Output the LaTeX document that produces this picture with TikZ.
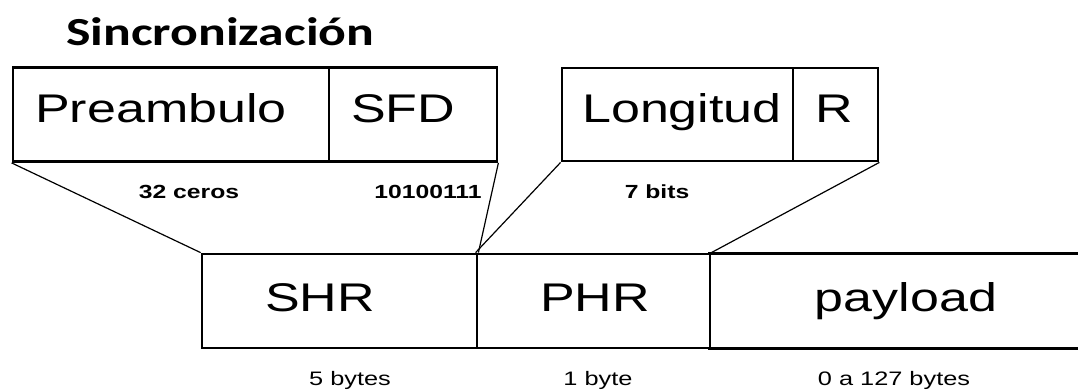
\documentclass[tikz,border=0pt]{standalone}
\usepackage{fontspec}
\setmainfont[FakeStretch=1.3]{Liberation Sans}
\newfontfamily\titlefont[FakeStretch=1.3]{Carlito}
\begin{document}
\begin{tikzpicture}[x=1pt,y=-1pt,
  cell/.style={draw=black,line width=2.8pt,minimum width=#1,minimum height=94pt,inner sep=0pt},
  field/.style={anchor=base,font=\fontsize{40}{40}\selectfont,inner sep=0pt},
  topnote/.style={anchor=base,font=\bfseries\fontsize{19}{19}\selectfont,inner sep=0pt},
  sizenote/.style={anchor=base,font=\fontsize{19.5}{19.5}\selectfont,inner sep=0pt},
  link/.style={line width=1.2pt,black}]
\useasboundingbox (0,0) rectangle (1078,389);

% heading
\node[anchor=base west,inner sep=0pt,font=\titlefont\bfseries\fontsize{39.8}{39.8}\selectfont]
  (title) at (66,45) {Sincronización};

% synchronisation header fields
\node[cell=316pt] (pre) at (171,114.5) {};
\node[cell=168pt] (sfd) at (413,114.5) {};
\node[field] (pret) at (161,122.5) {Preambulo};
\node[field] (sfdt) at (403,122.5) {SFD};
\node[topnote] (preN) at (189,198) {32 ceros};
\node[topnote] (sfdN) at (428,198) {10100111};

% PHY header fields
\node[cell=231pt,minimum height=93pt] (lon) at (677.5,114.5) {};
\node[cell=85pt,minimum height=93pt] (r) at (835.5,114.5) {};
\node[field] (lont) at (682,122.5) {Longitud};
\node[field] (rt) at (834,122.5) {R};
\node[topnote] (lonN) at (657,198) {7 bits};

% frame (payload runs on past the right edge)
\node[cell=275pt] (shr) at (339.5,301) {};
\node[cell=233pt] (phr) at (593.5,301) {};
\node[inner sep=0pt,minimum width=380pt,minimum height=94pt] (pay) at (900,301) {};
\draw[line width=2.8pt,line cap=rect] (pay.north west) -- (pay.north east)
  (pay.south west) -- (pay.south east);
\node[field] (shrt) at (320,311) {SHR};
\node[field] (phrt) at (595,311) {PHR};
\node[field] (payt) at (906,311) {payload};
\node[sizenote] (shrN) at (350,385) {5 bytes};
\node[sizenote] (phrN) at (598,385) {1 byte};
\node[sizenote] (payN) at (894,385) {0 a 127 bytes};

% expansion lines
\draw[link] (pre.south west) -- (shr.north west);
\draw[link] (sfd.south east) -- (shr.north east);
\draw[link] (lon.south west) -- (phr.north west);
\draw[link] (r.south east) -- (phr.north east);
\end{tikzpicture}
\end{document}
